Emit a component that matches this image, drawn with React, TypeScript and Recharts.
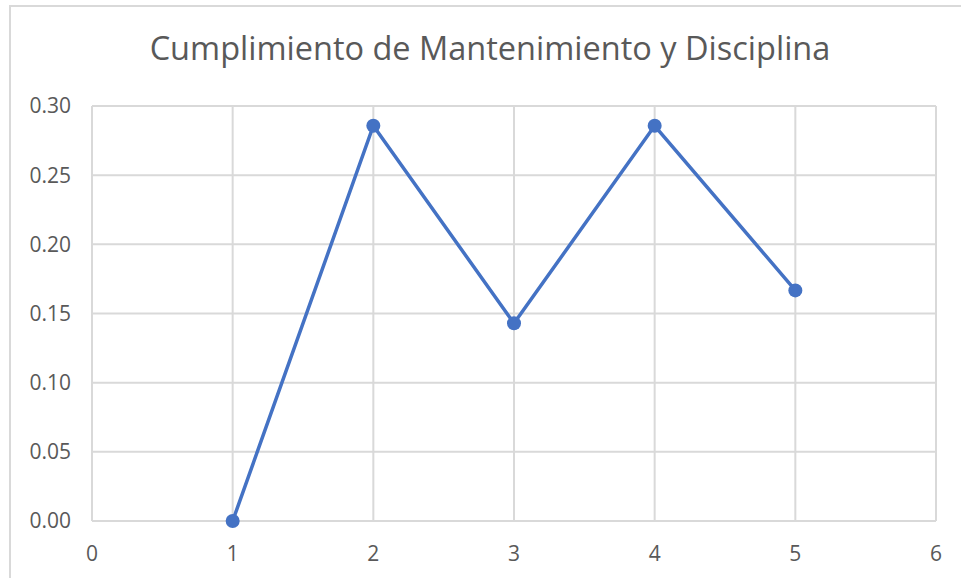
import { LineChart, Line, XAxis, YAxis, CartesianGrid } from "recharts";

// Compliance ratio per audit round (x = round number, y = share met).
const rounds = [1, 2, 3, 4, 5];
const compliance = [0, 0.2857, 0.1429, 0.2857, 0.1667];

const xTicks = [0, 1, 2, 3, 4, 5, 6];
const yTicks = [0, 0.05, 0.1, 0.15, 0.2, 0.25, 0.3];

const title = "Cumplimiento de Mantenimiento y Disciplina";

const data = rounds.map((x, i) => ({ x, y: compliance[i] }));

const FONT = '"Open Sans", "Noto Sans", sans-serif';
const TEXT = "#595959";
const GRID = "#d9d9d9";
const SERIES = "#4472c4";
const TICK_SIZE = 21;

export default function App() {
  return (
    <div
      style={{
        position: "fixed",
        left: 0,
        top: 0,
        width: 961,
        height: 578,
        background: "#fff",
        overflow: "hidden",
        fontFamily: FONT,
      }}
    >
      {/* chart frame, runs off the right and bottom edges */}
      <div
        style={{
          position: "absolute",
          left: 9,
          top: 5,
          width: 1000,
          height: 620,
          border: `2px solid ${GRID}`,
          boxSizing: "border-box",
        }}
      />
      <div
        style={{
          position: "absolute",
          left: 0,
          width: 980,
          top: 30,
          textAlign: "center",
          fontSize: 32.5,
          color: TEXT,
          lineHeight: "36px",
          whiteSpace: "nowrap",
        }}
      >
        {title}
      </div>
      <div style={{ position: "absolute", left: 0, top: 0 }}>
        <LineChart
          width={961}
          height={578}
          data={data}
          margin={{ top: 106, right: 25, bottom: 17, left: 0 }}
        >
          <CartesianGrid stroke={GRID} strokeWidth={2} />
          <XAxis
            type="number"
            dataKey="x"
            domain={[0, 6]}
            ticks={xTicks}
            interval={0}
            height={40}
            tickSize={0}
            tickMargin={25}
            fontSize={TICK_SIZE}
            axisLine={{ stroke: GRID, strokeWidth: 2 }}
            tickLine={false}
            tick={{ fill: TEXT, fontSize: TICK_SIZE, fontFamily: FONT }}
          />
          <YAxis
            type="number"
            domain={[0, 0.3]}
            ticks={yTicks}
            interval={0}
            width={92}
            tickSize={0}
            tickMargin={21}
            fontSize={TICK_SIZE}
            axisLine={false}
            tickLine={false}
            tickFormatter={(v: number) => v.toFixed(2)}
            tick={{ fill: TEXT, fontSize: TICK_SIZE, fontFamily: FONT }}
          />
          <Line
            type="linear"
            dataKey="y"
            stroke={SERIES}
            strokeWidth={3.5}
            dot={{ r: 7, fill: SERIES, stroke: SERIES, strokeWidth: 0 }}
            activeDot={false}
            isAnimationActive={false}
          />
        </LineChart>
      </div>
    </div>
  );
}
